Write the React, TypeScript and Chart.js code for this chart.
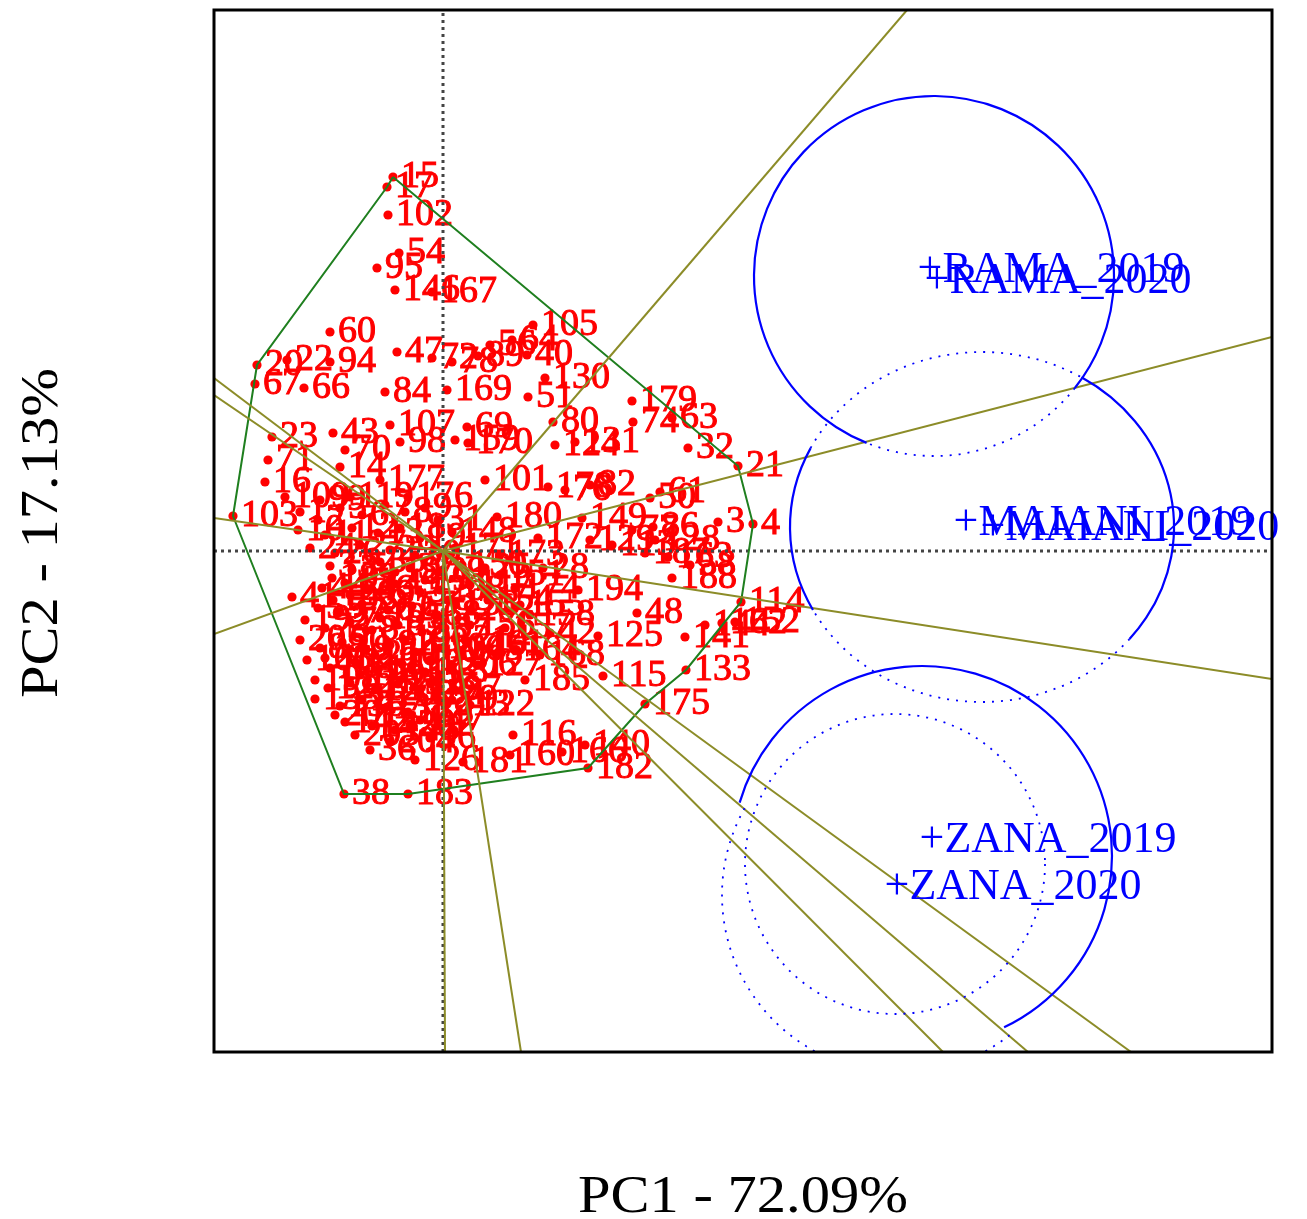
import React, { useEffect, useRef } from "react";
import { Chart, registerables } from "chart.js";

Chart.register(...registerables);

const X_TITLE = "PC1 - 72.09%";
const Y_TITLE = "PC2 - 17.13%";
const X_MIN = -2.29;
const X_MAX = 8.29;
const Y_MIN = -5.01;
const Y_MAX = 5.41;

const genotypeLabels = [
  "15","17","102","54","95","146","167","60","105","56","64","40","20","22","94","47","72","78","89","67",
  "66","84","169","130","51","179","74","63","80","32","21","23","43","107","98","70","14","71","69","170",
  "159","124","131","101","178","76","82","180","149","148","172","129","113","50","61","86","77","128","187","163",
  "58","188","3","4","28","25","117","174","194","48","114","141","144","162","152","133","175","182","140","126",
  "96","181","160","116","166","36","38","183","122","127","185","115","42","125","93","97","79","16","109","103",
  "119","99","1","2","5","6","7","8","9","10","11","12","13","18","19","24","26","27","29","30",
  "31","33","34","35","37","39","41","44","45","46","49","52","53","55","57","59","62","65","68","73",
  "75","81","83","85","87","88","90","91","92","100","104","106","108","110","111","112","118","120","121","123",
  "132","134","135","136","137","138","139","142","143","145","147","150","151","153","154","155","156","157","158","161",
  "164","165","168","171","173","176","177","189","190","191","192","193","195","196","197","198","199","200","201","202",
  "203","204","205","206","207","208","209","210","211","212","213","214"
];
const genotypeX = [
  -0.50,-0.56,-0.55,-0.44,-0.66,-0.48,-0.11,-1.13,0.90,0.47,0.69,0.84,-1.86,-1.56,-1.13,-0.46,-0.11,0.09,0.35,-1.88,
  -1.39,-0.58,0.04,1.02,0.85,1.89,1.90,2.29,1.10,2.45,2.95,-1.71,-1.10,-0.53,-0.43,-0.98,-1.03,-1.75,0.24,0.25,
  0.12,1.12,1.32,0.42,1.05,1.22,1.47,0.54,1.39,0.09,0.95,1.47,1.69,2.07,2.17,2.10,1.89,2.12,2.02,2.25,
  2.47,2.29,2.75,3.10,1.00,0.42,0.27,0.72,1.35,1.94,2.98,2.42,2.62,2.79,2.92,2.43,2.02,1.45,1.42,-0.28,
  -0.13,0.20,0.67,0.70,1.19,-0.73,-0.99,-0.35,0.27,0.35,0.82,1.60,1.07,1.55,-0.13,0.12,0.09,-1.78,-1.58,-2.10,
  -0.93,-1.23,-1.43,-1.25,-1.03,-0.81,-0.58,-0.38,-0.18,-1.45,-1.18,-0.91,-0.65,-0.43,-0.23,-1.33,-1.08,-0.83,-0.53,-0.28,
  -0.05,-1.13,-0.91,-0.63,-0.33,-0.03,-1.51,-1.21,-0.98,-0.75,-0.48,-0.23,0.05,-1.25,-1.03,-0.81,-0.55,-0.31,-0.08,-1.18,
  -0.93,-0.71,-0.45,-0.21,0.02,-1.23,-1.01,-0.77,-0.53,-0.28,-0.03,-1.36,-1.13,-0.88,-0.65,-0.41,-0.18,-1.15,-0.93,-0.68,
  -0.45,-0.23,-1.28,-1.03,-0.81,-0.58,-0.35,-0.98,-0.71,-0.48,-0.23,0.19,0.57,0.12,0.45,0.77,0.27,0.62,0.87,0.37,
  0.72,0.15,0.97,0.12,0.57,-0.35,-0.63,-1.11,-0.48,-0.18,-1.38,-1.10,-0.63,-0.38,-0.13,-1.28,-0.83,-0.53,-1.08,-0.33,
  -0.88,-0.53,-1.43,0.09,0.27,-0.03,-0.93,-0.68,-0.43,-1.18,0.02,0.22
];
const genotypeY = [
  3.74,3.64,3.36,2.98,2.83,2.61,2.59,2.19,2.26,2.06,2.11,1.96,1.86,1.91,1.89,1.99,1.93,1.89,1.95,1.67,
  1.63,1.59,1.61,1.73,1.54,1.50,1.29,1.33,1.29,1.03,0.85,1.14,1.18,1.26,1.09,1.01,0.84,0.91,1.24,1.08,
  1.11,1.06,1.09,0.71,0.64,0.61,0.66,0.34,0.33,0.19,0.13,0.11,0.06,0.53,0.59,0.24,0.21,0.11,-0.02,-0.06,
  -0.14,-0.27,0.29,0.27,-0.17,-0.17,-0.34,-0.37,-0.39,-0.62,-0.51,-0.86,-0.74,-0.72,-0.71,-1.19,-1.53,-2.17,-1.94,-2.09,
  -1.87,-2.11,-2.04,-1.84,-2.01,-1.99,-2.43,-2.43,-1.54,-1.14,-1.29,-1.25,-0.82,-0.85,-1.32,-1.39,-1.49,0.69,0.54,0.35,
  0.54,0.51,0.39,0.31,0.43,0.36,0.46,0.39,0.43,0.21,0.16,0.23,0.18,0.23,0.13,0.03,-0.02,0.06,0.01,-0.04,
  0.31,-0.15,-0.19,-0.11,-0.17,-0.21,-0.46,-0.37,-0.32,-0.39,-0.33,-0.41,-0.49,-0.57,-0.61,-0.53,-0.59,-0.55,-0.64,-0.77,
  -0.71,-0.79,-0.74,-0.81,-0.77,-0.97,-0.91,-0.99,-0.94,-1.01,-0.97,-1.09,-1.17,-1.11,-1.19,-1.13,-1.21,-1.37,-1.32,-1.39,
  -1.33,-1.43,-1.48,-1.55,-1.49,-1.57,-1.61,-1.71,-1.75,-1.79,-1.69,-0.14,-0.24,-0.54,-0.49,-0.54,-0.74,-0.77,-0.64,-0.94,
  -0.99,-0.99,-1.04,0.03,-0.04,0.54,0.71,-0.27,-0.21,-0.29,-0.69,-0.49,-0.67,-0.89,-1.09,-1.29,-1.24,-1.44,-1.64,-1.74,
  -1.84,-1.91,-0.89,-1.14,-0.59,-0.39,-0.44,-1.04,-1.29,-1.07,-1.54,-0.89
];

const hullLabels = ["15", "21", "4", "114", "133", "175", "182", "183", "38", "103", "20", "17"];

const envLabels = ["RAMA_2019", "RAMA_2020", "MAIANI_2019", "MAIANI_2020", "ZANA_2019", "ZANA_2020"];
const envX = [4.87, 4.94, 5.23, 5.50, 4.89, 4.54];
const envY = [2.81, 2.70, 0.28, 0.23, -2.89, -3.36];

const rayEndX = [4.64, 8.29, 8.29, 6.88, 5.85, 5.0, 0.78, 0.02, -2.29, -2.29, -2.29, -2.29];
const rayEndY = [5.41, 2.14, -1.28, -5.01, -5.01, -5.01, -5.01, -5.01, -0.83, 0.33, 1.56, 1.73];

// environment circles (biplot units)
const circleCX = [4.91, 5.39, 4.79, 4.57, 4.52];
const circleCY = [2.75, 0.24, -3.05, -3.44, -3.13];
const circleRX = [1.80, 1.92, 1.90, 1.78, 1.50];
const circleRY = [1.80, 1.75, 1.90, 1.78, 1.50];
// visible arcs of those circles (degrees, clockwise on screen from the right)
const arcCircle = [0, 0, 1, 1, 1, 1, 2, 3, 4];
const arcFrom = [112, 38.5, 301.2, 39.8, 151.7, 206.8, 196.3, 52, 0];
const arcTo = [398.5, 112, 399.8, 151.7, 206.8, 301.2, 424.4, 210.3, 360];
const arcDotted = [false, true, false, true, false, true, false, true, true];

const biplotPlugin = {
  id: "biplotExtras",
  beforeDatasetsDraw(chart: any) {
    const { ctx, scales } = chart;
    const xs = scales.x;
    const ys = scales.y;
    ctx.save();
    ctx.font = "38px 'Liberation Serif'";
    ctx.fillStyle = "#ff0000";
    ctx.strokeStyle = "#ff0000";
    ctx.lineWidth = 1;
    ctx.textBaseline = "middle";
    ctx.textAlign = "left";
    genotypeLabels.forEach((lab, i) => {
      const px = xs.getPixelForValue(genotypeX[i]) + 8;
      const py = ys.getPixelForValue(genotypeY[i]);
      ctx.fillText(lab, px, py);
      ctx.strokeText(lab, px, py);
    });
    ctx.restore();
  },
  afterDatasetsDraw(chart: any) {
    const { ctx, scales, chartArea } = chart;
    const xs = scales.x;
    const ys = scales.y;
    ctx.save();
    ctx.beginPath();
    ctx.rect(chartArea.left, chartArea.top, chartArea.right - chartArea.left, chartArea.bottom - chartArea.top);
    ctx.clip();
    ctx.strokeStyle = "#0000ff";
    arcCircle.forEach((ci, k) => {
      const px = xs.getPixelForValue(circleCX[ci]);
      const py = ys.getPixelForValue(circleCY[ci]);
      const rx = xs.getPixelForValue(circleCX[ci] + circleRX[ci]) - px;
      const ry = py - ys.getPixelForValue(circleCY[ci] + circleRY[ci]);
      ctx.beginPath();
      ctx.ellipse(px, py, rx, ry, 0, (arcFrom[k] * Math.PI) / 180, (arcTo[k] * Math.PI) / 180);
      if (arcDotted[k]) {
        ctx.setLineDash([2, 7]);
        ctx.lineWidth = 1.8;
      } else {
        ctx.setLineDash([]);
        ctx.lineWidth = 2.2;
      }
      ctx.stroke();
    });
    ctx.restore();

    ctx.save();
    ctx.font = "44px 'Liberation Serif'";
    ctx.fillStyle = "#0000ff";
    ctx.textBaseline = "middle";
    ctx.textAlign = "left";
    const plusW = ctx.measureText("+").width;
    envLabels.forEach((lab, i) => {
      ctx.fillText("+" + lab, xs.getPixelForValue(envX[i]) - plusW / 2, ys.getPixelForValue(envY[i]));
    });
    ctx.restore();
  },
  afterDraw(chart: any) {
    const { ctx, chartArea } = chart;
    ctx.save();
    ctx.strokeStyle = "#000000";
    ctx.lineWidth = 3;
    ctx.setLineDash([]);
    ctx.strokeRect(chartArea.left, chartArea.top, chartArea.right - chartArea.left, chartArea.bottom - chartArea.top);

    ctx.fillStyle = "#000000";
    ctx.font = "52px 'Liberation Serif'";
    ctx.textAlign = "center";
    ctx.textBaseline = "alphabetic";
    const cx = (chartArea.left + chartArea.right) / 2;
    ctx.save();
    ctx.translate(cx, chartArea.bottom + 160);
    ctx.scale(1.125, 1);
    ctx.fillText(X_TITLE, 0, 0);
    ctx.restore();

    const cy = (chartArea.top + chartArea.bottom) / 2;
    ctx.save();
    ctx.translate(chartArea.left - 157, cy + 2);
    ctx.rotate(-Math.PI / 2);
    ctx.scale(1.125, 1);
    ctx.fillText(Y_TITLE, 0, 0);
    ctx.restore();
    ctx.restore();
  },
};

export default function App() {
  const canvasRef = useRef<HTMLCanvasElement | null>(null);

  useEffect(() => {
    document.body.style.margin = "0";
    document.body.style.overflow = "hidden";
    const canvas = canvasRef.current;
    if (!canvas) return;

    const points = genotypeLabels.map((_, i) => ({ x: genotypeX[i], y: genotypeY[i] }));
    const hullPts = hullLabels.map((lab) => {
      const i = genotypeLabels.indexOf(lab);
      return { x: genotypeX[i], y: genotypeY[i] };
    });
    hullPts.push(hullPts[0]);

    const rayDatasets = rayEndX.map((ex, i) => ({
      type: "line" as const,
      data: [
        { x: 0, y: 0 },
        { x: ex, y: rayEndY[i] },
      ],
      borderColor: "rgb(140,140,40)",
      borderWidth: 2,
      pointRadius: 0,
      showLine: true,
      fill: false,
      order: 3,
    }));

    const chart = new Chart(canvas, {
      type: "scatter",
      data: {
        datasets: [
          ...rayDatasets,
          {
            type: "line" as const,
            data: hullPts,
            borderColor: "#1f7f1f",
            borderWidth: 2,
            pointRadius: 0,
            showLine: true,
            fill: false,
            order: 4,
          },
          {
            type: "line" as const,
            data: [
              { x: X_MIN, y: 0 },
              { x: X_MAX, y: 0 },
            ],
            borderColor: "#444444",
            borderWidth: 3,
            borderDash: [3, 4],
            pointRadius: 0,
            showLine: true,
            fill: false,
            order: 5,
          },
          {
            type: "line" as const,
            data: [
              { x: 0, y: Y_MIN },
              { x: 0, y: Y_MAX },
            ],
            borderColor: "#444444",
            borderWidth: 3,
            borderDash: [3, 4],
            pointRadius: 0,
            showLine: true,
            fill: false,
            order: 5,
          },
          {
            type: "scatter" as const,
            data: points,
            backgroundColor: "#ff0000",
            borderColor: "#ff0000",
            borderWidth: 0,
            pointRadius: 4.6,
            order: 10,
          },
        ],
      },
      options: {
        responsive: false,
        animation: false,
        layout: { padding: { left: 214, right: 35, top: 10, bottom: 167 } },
        plugins: { legend: { display: false }, tooltip: { enabled: false } },
        scales: {
          x: { type: "linear", min: X_MIN, max: X_MAX, display: false },
          y: { type: "linear", min: Y_MIN, max: Y_MAX, display: false },
        },
      },
      plugins: [biplotPlugin],
    } as any);

    return () => chart.destroy();
  }, []);

  return (
    <div style={{ width: 1307, height: 1219, background: "#ffffff" }}>
      <canvas ref={canvasRef} width={1307} height={1219} style={{ display: "block" }} />
    </div>
  );
}
